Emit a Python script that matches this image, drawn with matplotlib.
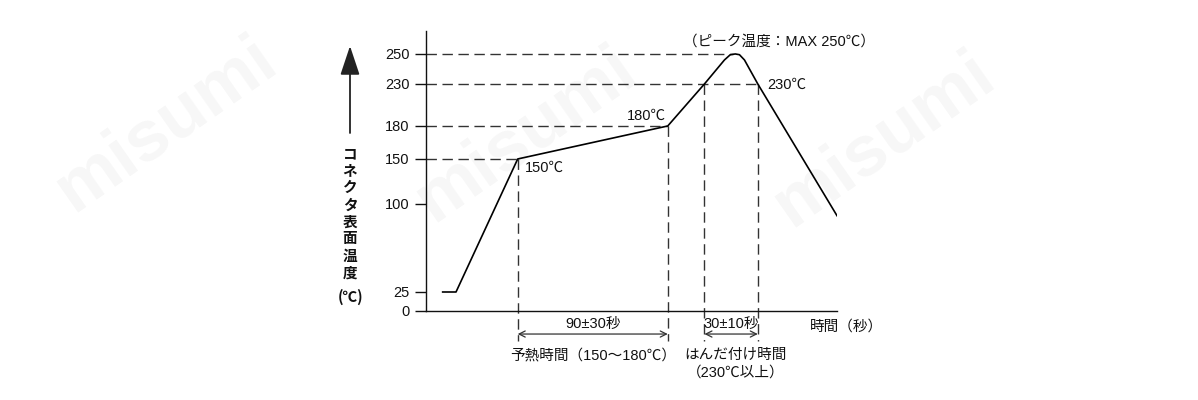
import numpy as np
import matplotlib
matplotlib.use("Agg")
import matplotlib.pyplot as plt

plt.rcParams['font.family'] = ['Liberation Sans', 'Noto Sans CJK JP', 'DejaVu Sans']

# Reflow profile (time in s, temperature in deg C)
PROFILE_TIME = [10, 18, 55, 145, 167, 179, 182.5, 185.5, 188, 191, 199, 246.5]
PROFILE_TEMP = [25, 25, 150, 180, 230, 246, 249.5, 250, 249.5, 246, 230, 90]

Y_TICKS = [0, 25, 100, 150, 180, 230, 250]

# reference levels: (temperature, time where the dashed line ends)
LEVELS = [(250, 184), (230, 199), (180, 145), (150, 55)]
# vertical guides: (time, temperature)
GUIDES = [(55, 150), (145, 180), (167, 230), (199, 230)]

PREHEAT = (55, 145)
SOLDER = (167, 199)

# schematic (non-linear) temperature axis: tick value -> pixel height
SCALE_T = [-100, 0, 25, 100, 150, 180, 230, 250, 400]
SCALE_P = [-76, 0, 19, 107, 152, 185, 227, 257, 482]


def forward(t):
    return np.interp(t, SCALE_T, SCALE_P)


def inverse(p):
    return np.interp(p, SCALE_P, SCALE_T)


def main():
    W, H = 1198, 400
    fig = plt.figure(figsize=(W / 100, H / 100), dpi=100)

    # faint watermark
    for cx, cy in [(165, 125), (525, 135), (883, 140)]:
        fig.text(cx / W, 1 - cy / H, "misumi", fontsize=52, fontweight='bold',
                 color='black', alpha=0.035, rotation=35, ha='center', va='center',
                 family='Liberation Sans', zorder=0)

    ax = fig.add_axes([426 / W, 89 / H, 411 / W, 280 / H])
    ax.set_facecolor('none')
    ax.set_yscale('function', functions=(forward, inverse))
    ax.set_xlim(0, 246.5)
    ax.set_ylim(0, 265.3)

    for s in ['top', 'right']:
        ax.spines[s].set_visible(False)
    for s in ['left', 'bottom']:
        ax.spines[s].set_linewidth(1.0)
        ax.spines[s].set_color('#111111')

    ax.set_xticks([])
    ax.set_yticks(Y_TICKS)
    ax.set_yticklabels([str(v) for v in Y_TICKS])
    ax.tick_params(axis='y', direction='out', length=8, width=1.0, pad=4,
                   labelsize=10.5, colors='#111111')
    ax.set_yticks(Y_TICKS, minor=True)
    ax.tick_params(axis='y', which='minor', direction='in', length=3, width=1.0,
                   color='#111111')

    dash = dict(color='#333333', lw=1.0, dashes=(7.5, 4))
    for temp, t_end in LEVELS:
        ax.plot([0, t_end], [temp, temp], **dash)
    for t, temp in GUIDES:
        ax.plot([t, t], [temp, -40], clip_on=False, **dash)

    ax.plot(PROFILE_TIME, PROFILE_TEMP, color='black', lw=1.2,
            solid_joinstyle='round')

    txt = dict(fontsize=10.5, color='#111111')
    ax.text(59.4, 140, "150℃", ha='left', va='center', **txt)
    ax.text(144, 192, "180℃", ha='right', va='center', **txt)
    ax.text(204.6, 229, "230℃", ha='left', va='center', **txt)
    ax.text(212, 258, "（ピーク温度：MAX 250℃）", ha='center', va='center',
            clip_on=False, **txt)

    arrow = dict(arrowstyle='<->', color='#333333', lw=0.9,
                 shrinkA=0, shrinkB=0, mutation_scale=11)
    for a, b in [PREHEAT, SOLDER]:
        ax.annotate("", xy=(a, -30.3), xytext=(b, -30.3), arrowprops=arrow,
                    annotation_clip=False)

    ax.text(100, -17, "90±30秒", ha='center', va='center', clip_on=False, **txt)
    ax.text(183, -17, "30±10秒", ha='center', va='center', clip_on=False, **txt)
    ax.text(100, -58, "予熱時間（150～180℃）", ha='center', va='center',
            clip_on=False, **txt)
    ax.text(185.5, -58, "はんだ付け時間", ha='center', va='center',
            clip_on=False, **txt)
    ax.text(185.5, -81.6, "（230℃以上）", ha='center', va='center',
            clip_on=False, **txt)
    ax.text(230.4, -21, "時間（秒）", ha='left', va='center', clip_on=False, **txt)

    # vertical y-axis label with arrow
    label = "コネクタ表面温度"
    for i, ch in enumerate(label):
        fig.text(350 / W, 1 - (153 + i * 17.1) / H, ch, ha='center', va='center',
                 fontsize=10.5, fontweight='bold', color='#111111',
                 family=['Noto Sans CJK JP'])
    fig.text(351 / W, 1 - 297 / H, "(℃)", ha='center', va='center',
             fontsize=10.5, fontweight='bold', color='#111111',
             family=['Noto Sans CJK JP'])
    fig.patches.append(matplotlib.patches.FancyArrowPatch(
        (350 / W, 1 - 133 / H), (350 / W, 1 - 46 / H), transform=fig.transFigure,
        arrowstyle='-|>,head_length=0.9,head_width=0.3', mutation_scale=20,
        color='#222222', lw=1.3, shrinkA=0, shrinkB=0))

    fig.savefig("out.png", dpi=100)


if __name__ == "__main__":
    main()
